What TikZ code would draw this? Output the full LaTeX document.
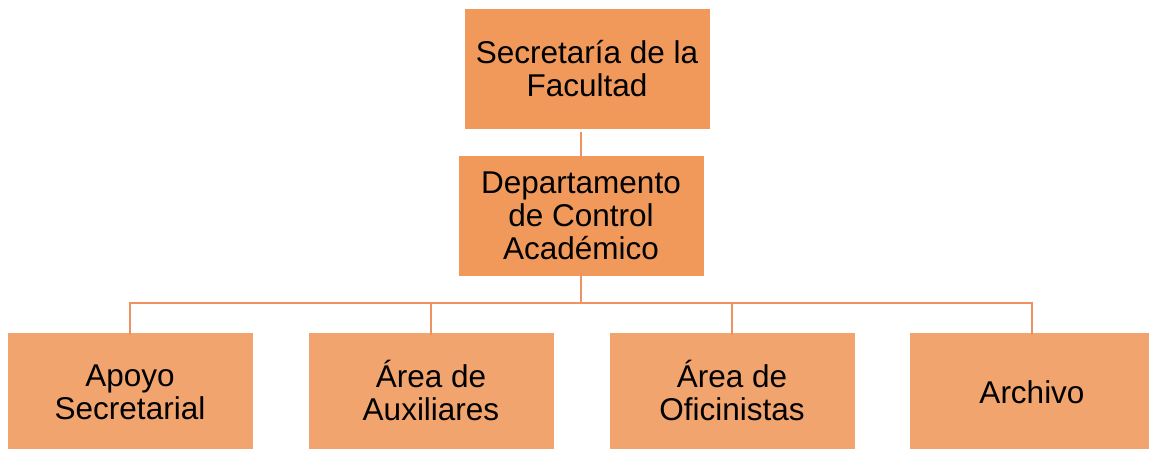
\documentclass[tikz,border=0pt]{standalone}
\usepackage{fontspec}
\setmainfont{Liberation Sans}
\definecolor{topfill}{HTML}{F0995A}
\definecolor{botfill}{HTML}{F1A46E}
\definecolor{linkcol}{HTML}{EE9262}
\begin{document}
\begin{tikzpicture}[x=1pt,y=-1pt,
  box/.style={rectangle, draw=white, line width=0.8pt, minimum width=246pt, minimum height=121pt,
    inner sep=0pt, align=center, font=\fontsize{31.5}{33}\selectfont, text=black},
  upper/.style={box, fill=topfill},
  lower/.style={box, fill=botfill},
  link/.style={draw=linkcol, line width=2pt}]
\useasboundingbox (0,0) rectangle (1149,448);
\begin{scope}
\clip (0,0) rectangle (1149,448);
\node[upper] (sec) at (587,68.5) {Secretaría de la\\Facultad};
\node[upper] (dep) at (581,215.5) {Departamento\\de Control\\Académico};
\node[lower] (apo) at (130,392.5) {Apoyo\\Secretarial};
\node[lower] (aux) at (431,392.5) {\smash{Á}rea de\\Auxiliares};
\node[lower] (ofi) at (732,392.5) {\smash{Á}rea de\\Oficinistas};
\node[lower] (arc) at (1032,392.5) {Archivo};
\coordinate (bus) at (581,303);
\draw[link] (sec.south -| dep.north) ++(0,3) -- ([yshift=-3pt]dep.north);
\draw[link] ([yshift=3pt]dep.south) -- (bus);
\draw[link] ([yshift=-3pt]apo.north) -- (apo.north |- bus) -- (arc.north |- bus) -- ([yshift=-3pt]arc.north);
\draw[link] ([yshift=-3pt]aux.north) -- (aux.north |- bus);
\draw[link] ([yshift=-3pt]ofi.north) -- (ofi.north |- bus);
\end{scope}
\end{tikzpicture}
\end{document}
